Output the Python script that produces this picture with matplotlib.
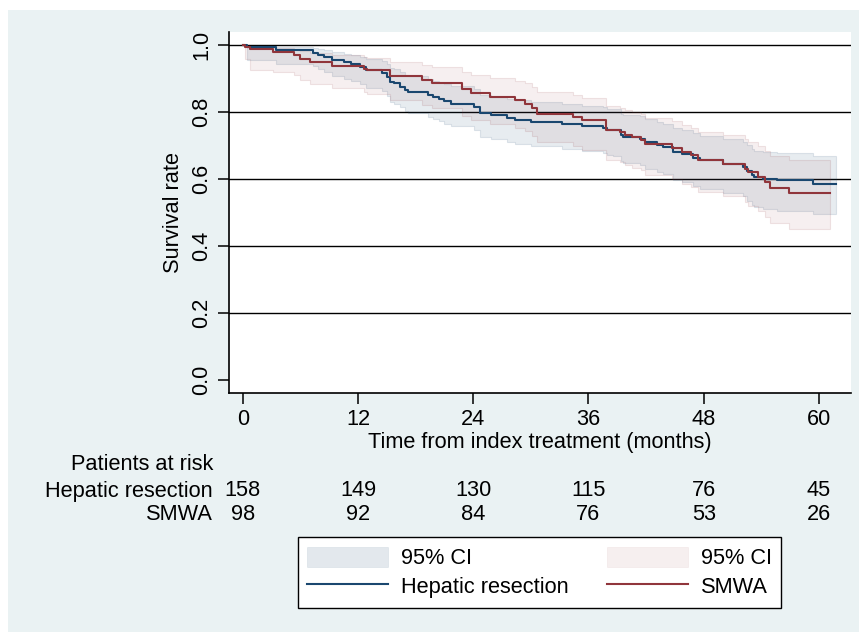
import matplotlib
matplotlib.use("Agg")
import matplotlib.pyplot as plt
from matplotlib.patches import Rectangle, Patch
from matplotlib.lines import Line2D
from matplotlib.colors import to_rgba
import matplotlib.transforms as mtransforms

plt.rcParams['font.family'] = ['Liberation Sans', 'DejaVu Sans']

# Kaplan-Meier steps: time (months), survival, 95% CI
hr_time = [0, 0.4, 3.5, 7.3, 7.8, 8.5, 9.3, 10.5, 11.3, 12.2, 12.8, 14.5, 15.0, 15.3,
           15.7, 16.4, 16.9, 17.2, 19.3, 19.8, 20.4, 21.0, 21.7, 24.1, 24.7, 25.9,
           27.5, 28.3, 30.0, 33.2, 35.3, 37.5, 37.9, 38.5, 39.4, 39.6, 41.4, 41.9,
           43.1, 43.8, 44.8, 45.7, 46.9, 47.6, 50.0, 52.1, 52.5, 53.0, 53.2, 54.2,
           55.6, 59.4]
hr_surv = [1.000, 0.994, 0.985, 0.978, 0.971, 0.964, 0.956, 0.949, 0.943, 0.936, 0.926,
           0.918, 0.906, 0.891, 0.886, 0.876, 0.866, 0.861, 0.851, 0.846, 0.841, 0.833,
           0.826, 0.816, 0.798, 0.791, 0.784, 0.778, 0.772, 0.764, 0.759, 0.753, 0.748,
           0.746, 0.731, 0.726, 0.721, 0.711, 0.703, 0.696, 0.681, 0.676, 0.664, 0.656,
           0.646, 0.636, 0.624, 0.611, 0.606, 0.601, 0.596, 0.586]
hr_lo = [1.000, 0.955, 0.945, 0.937, 0.928, 0.919, 0.909, 0.900, 0.893, 0.885, 0.873,
         0.864, 0.850, 0.832, 0.826, 0.815, 0.803, 0.798, 0.786, 0.781, 0.775, 0.766,
         0.758, 0.747, 0.727, 0.719, 0.711, 0.705, 0.698, 0.689, 0.684, 0.677, 0.671,
         0.669, 0.653, 0.647, 0.642, 0.631, 0.622, 0.614, 0.598, 0.592, 0.579, 0.570,
         0.559, 0.548, 0.535, 0.521, 0.516, 0.510, 0.505, 0.495]
hr_hi = [1.000, 0.999, 0.996, 0.993, 0.989, 0.985, 0.980, 0.975, 0.971, 0.966, 0.959,
         0.953, 0.944, 0.932, 0.928, 0.920, 0.911, 0.907, 0.898, 0.894, 0.890, 0.883,
         0.877, 0.868, 0.853, 0.847, 0.841, 0.836, 0.831, 0.824, 0.820, 0.815, 0.811,
         0.809, 0.796, 0.792, 0.788, 0.779, 0.772, 0.766, 0.752, 0.748, 0.737, 0.730,
         0.721, 0.712, 0.701, 0.690, 0.685, 0.681, 0.677, 0.668]
hr_end = 61.8

mw_time = [0, 0.2, 0.8, 3.1, 5.3, 6.0, 7.0, 9.3, 12.6, 12.9, 15.3, 18.7, 19.7, 22.8,
           23.8, 25.7, 28.3, 29.4, 30.1, 30.6, 34.4, 35.3, 37.8, 39.3, 39.8, 40.5,
           41.5, 41.9, 44.7, 45.7, 46.7, 47.4, 50.0, 52.3, 52.6, 53.7, 54.4, 54.9, 56.9]
mw_surv = [1.000, 0.995, 0.989, 0.979, 0.971, 0.959, 0.949, 0.939, 0.929, 0.926, 0.909,
           0.896, 0.888, 0.868, 0.858, 0.846, 0.836, 0.826, 0.814, 0.796, 0.786, 0.776,
           0.748, 0.741, 0.733, 0.726, 0.718, 0.706, 0.693, 0.681, 0.671, 0.658, 0.646,
           0.631, 0.621, 0.606, 0.591, 0.574, 0.558]
mw_lo = [1.000, 0.960, 0.926, 0.921, 0.911, 0.896, 0.884, 0.872, 0.860, 0.856, 0.836,
         0.821, 0.812, 0.789, 0.778, 0.765, 0.754, 0.743, 0.730, 0.710, 0.699, 0.688,
         0.658, 0.650, 0.642, 0.634, 0.626, 0.613, 0.599, 0.586, 0.575, 0.561, 0.548,
         0.531, 0.520, 0.504, 0.488, 0.470, 0.452]
mw_hi = [1.000, 0.999, 0.998, 0.993, 0.990, 0.984, 0.978, 0.972, 0.965, 0.963, 0.951,
         0.941, 0.935, 0.919, 0.911, 0.902, 0.894, 0.886, 0.876, 0.861, 0.852, 0.844,
         0.820, 0.814, 0.807, 0.801, 0.794, 0.784, 0.773, 0.762, 0.753, 0.742, 0.732,
         0.719, 0.711, 0.698, 0.685, 0.670, 0.656]
mw_end = 61.1

risk_times = [0, 12, 24, 36, 48, 60]
risk_hr = [158, 149, 130, 115, 76, 45]
risk_mw = [98, 92, 84, 76, 53, 26]

navy = '#1a476f'
maroon = '#90353b'
bg = '#eaf2f3'
fs = 15.7

fig = plt.figure(figsize=(8.59, 6.32), dpi=100, facecolor='white')
fig.patches.append(Rectangle((8 / 859, 0), 1, 1 - 10 / 632, transform=fig.transFigure,
                             facecolor=bg, edgecolor='none', zorder=-10))

ax = fig.add_axes([229 / 859, 1 - 392.7 / 632, (850.7 - 229) / 859, (392.7 - 32) / 632])
ax.set_facecolor('white')

for g in [0.2, 0.4, 0.6, 0.8, 1.0]:
    ax.axhline(g, color='black', lw=1.0, zorder=1)


def extend(t, v, end):
    return list(t) + [end], list(v) + [v[-1]]


for t, lo, hi, end, col, a in [(hr_time, hr_lo, hr_hi, hr_end, navy, 0.10),
                               (mw_time, mw_lo, mw_hi, mw_end, maroon, 0.075)]:
    tt, ll = extend(t, lo, end)
    _, hh = extend(t, hi, end)
    ax.fill_between(tt, ll, hh, step='post', facecolor=to_rgba(col, a),
                    edgecolor=to_rgba(col, 0.12), linewidth=0.8, zorder=2)

for t, s, end, col in [(hr_time, hr_surv, hr_end, navy), (mw_time, mw_surv, mw_end, maroon)]:
    tt, ss = extend(t, s, end)
    ax.step(tt, ss, where='post', color=col, lw=1.5, zorder=3)

ax.set_xlim(-1.43, 63.3)
ax.set_ylim(-0.039, 1.04)
ax.set_xticks(risk_times)
ax.set_yticks([0, 0.2, 0.4, 0.6, 0.8, 1.0])
ax.set_yticklabels(['0.0', '0.2', '0.4', '0.6', '0.8', '1.0'], rotation=90, va='center')
for sp in ['top', 'right']:
    ax.spines[sp].set_visible(False)
for sp in ['left', 'bottom']:
    ax.spines[sp].set_linewidth(1.2)
ax.tick_params(axis='both', length=8, width=1.1, labelsize=fs, pad=4)
ax.set_ylabel('Survival rate', fontsize=fs, labelpad=5)
ax.set_xlabel('Time from index treatment (months)', fontsize=fs, labelpad=1)

# numbers at risk
trans = mtransforms.blended_transform_factory(ax.transData, fig.transFigure)
lab_x = 213 / 859
fig.text(lab_x, 1 - 465 / 632, 'Patients at risk', ha='right', va='center', fontsize=fs)
fig.text(lab_x, 1 - 491 / 632, 'Hepatic resection', ha='right', va='center', fontsize=fs)
fig.text(lab_x, 1 - 515 / 632, 'SMWA', ha='right', va='center', fontsize=fs)
for x, a, b in zip(risk_times, risk_hr, risk_mw):
    ax.text(x, 1 - 491 / 632, str(a), transform=trans, ha='center', va='center', fontsize=fs)
    ax.text(x, 1 - 515 / 632, str(b), transform=trans, ha='center', va='center', fontsize=fs)

handles = [Patch(facecolor=to_rgba(navy, 0.12), edgecolor=to_rgba(navy, 0.1), linewidth=0.5),
           Line2D([], [], color=navy, lw=1.5),
           Patch(facecolor=to_rgba(maroon, 0.08), edgecolor=to_rgba(maroon, 0.08), linewidth=0.5),
           Line2D([], [], color=maroon, lw=1.5)]
labels = ['95% CI', 'Hepatic resection', '95% CI', 'SMWA']
leg = fig.legend(handles, labels, ncol=2, loc='center',
                 bbox_to_anchor=(539.5 / 859, 1 - 572.5 / 632), fontsize=fs,
                 frameon=True, fancybox=False, edgecolor='black', framealpha=1,
                 handlelength=3.7, handleheight=1.0, handletextpad=0.6,
                 columnspacing=1.75, labelspacing=0.3, borderpad=0.45)
leg.get_frame().set_linewidth(1.0)

fig.savefig('out.png', dpi=100, facecolor='white')
